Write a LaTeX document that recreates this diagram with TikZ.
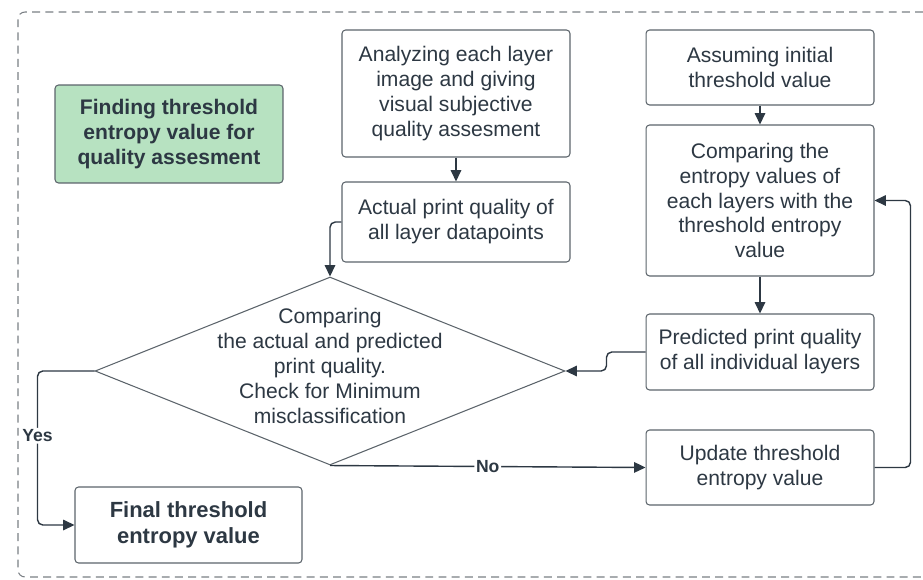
\documentclass[tikz,border=0pt]{standalone}
\usepackage{fontspec}
\setmainfont{Liberation Sans}
\usetikzlibrary{shapes.geometric,arrows.meta}

\definecolor{inkgray}{HTML}{2D3843}
\definecolor{framegray}{HTML}{7A7F84}
\definecolor{boxgray}{HTML}{5C646B}
\definecolor{softgreen}{HTML}{B7E2C1}

\tikzset{
  box/.style={draw=boxgray, line width=0.6pt, rounded corners=2pt, fill=white,
    text=inkgray, align=center, minimum width=4.56cm, inner sep=2pt,
    font=\fontsize{12}{14.2}\selectfont},
  flow/.style={draw=inkgray, line width=0.8pt, rounded corners=3pt,
    -{Triangle[length=6.5pt,width=6pt]}},
  flowlabel/.style={fill=white, text=inkgray, inner sep=1pt,
    font=\fontsize{10}{12}\selectfont\bfseries}
}

\begin{document}
\begin{tikzpicture}[x=0.02cm,y=-0.02cm]
    \useasboundingbox (0,0) rectangle (923,579);

    % outer frame (open to the right)
    \draw[framegray, dashed, dash pattern=on 4.5pt off 3pt, line width=0.6pt, rounded corners=4pt]
        (923,12) -- (18,12) -- (18,577) -- (923,577);

    % title
    \node[box, fill=softgreen, minimum height=1.96cm, font=\fontsize{12}{14.2}\selectfont\bfseries]
        (goal) at (169,134) {Finding threshold\\entropy value for\\quality assesment};

    % left column
    \node[box, minimum height=2.54cm] (anl) at (456,93.5)
        {Analyzing each layer\\image and giving\\visual subjective\\quality assesment};
    \node[box, minimum height=1.6cm] (act) at (456,222)
        {Actual print quality of\\all layer datapoints};

    % right column
    \node[box, minimum height=1.5cm] (asm) at (760,67.5)
        {Assuming initial\\threshold value};
    \node[box, minimum height=3.02cm] (cmpe) at (760,200.5)
        {Comparing the\\entropy values of\\each layers with the\\threshold entropy\\value};
    \node[box, minimum height=1.52cm] (pred) at (760,352)
        {Predicted print quality\\of all individual layers};
    \node[box, minimum height=1.5cm] (upd) at (760,467.5)
        {Update threshold\\entropy value};

    % decision
    \node[diamond, draw=boxgray, line width=0.6pt, fill=white, minimum width=9.4cm,
        minimum height=3.76cm, inner sep=0pt] (dia) at (330,371) {};
    \node[text=inkgray, align=center, font=\fontsize{12}{14.2}\selectfont] (diatxt) at (330,366)
        {Comparing\\the actual and predicted\\print quality.\\Check for Minimum\\misclassification};

    % result
    \node[box, minimum width=4.54cm, minimum height=1.52cm, font=\fontsize{12.5}{15}\selectfont\bfseries]
        (fin) at (188.5,525) {Final threshold\\entropy value};

    % connectors
    \draw[flow] (anl) -- (act);
    \draw[flow] (asm) -- (cmpe);
    \draw[flow] (cmpe) -- (pred);
    \draw[flow] (act.west) -| (dia.north);
    \draw[flow] (pred.west) -- ++(-39,0) |- (dia.east);
    \draw[flow] (dia.west) -- ++(-57,0) |- (fin.west)
        node[flowlabel, pos=0.21] (yes) {Yes};
    \draw[flow] (dia.south) -- (upd.west)
        node[flowlabel, pos=0.5] (no) {No};
    \draw[flow] (upd.east) -- ++(36,0) |- (cmpe.east);

\end{tikzpicture}
\end{document}
